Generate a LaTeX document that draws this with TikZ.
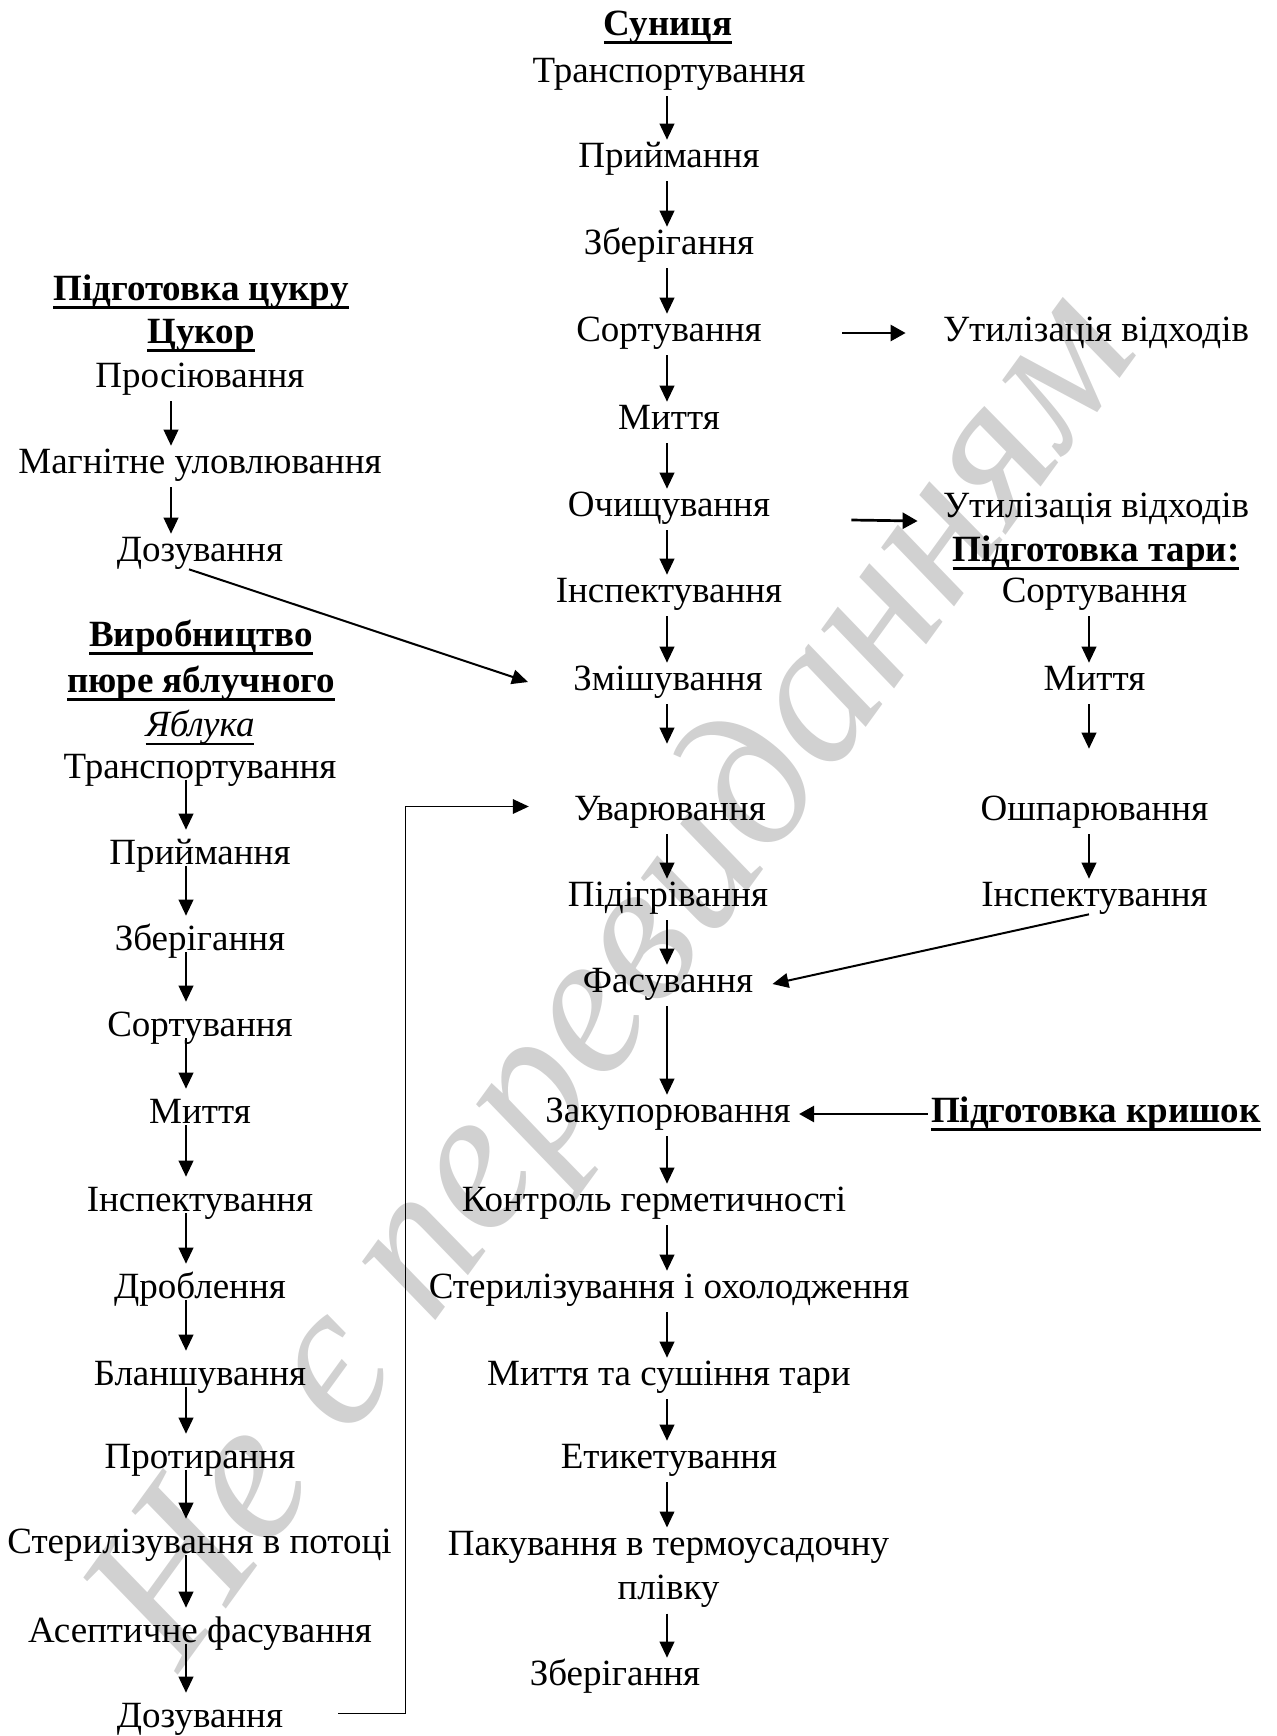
\documentclass[tikz,border=0pt]{standalone}
\usepackage{fontspec}
\setmainfont{Liberation Serif}
\usetikzlibrary{arrows.meta}
\newcommand{\stagefont}{\fontsize{18.5}{22}\selectfont}
\newcommand{\uln}[2][0.07em]{\setbox0\hbox{#2}\rlap{\rule[-0.22em]{\wd0}{#1}}\box0}
\tikzset{
  lbl/.style={font=\stagefont, inner sep=0pt},
  stage/.style={lbl, text height=12.2pt, text depth=3.7pt},
  heading/.style={stage, font=\stagefont\bfseries},
  flow/.style={-{Triangle[length=8pt,width=7.3pt]}, line width=1pt,
    shorten <=3pt, shorten >=1.5pt},
  appleflow/.style={flow, shorten <=-3pt, shorten >=5pt},
  sideflow/.style={-{Triangle[length=7.5pt,width=8pt]}, line width=1.35pt},
  wmark/.style={text=black!18, inner sep=0pt,
    font=\fontsize{102}{102}\selectfont\itshape, rotate=54}
}

\begin{document}
\begin{tikzpicture}[x=0.5pt, y=-0.5pt]
  \useasboundingbox (0,-2) rectangle (1277,1734);
  \node[wmark] (wm) at (621,980) {Не є перевиданням};
  % arrow columns
  \coordinate (cx) at (667,0);
  \coordinate (lx) at (186,0);
  \coordinate (sx) at (171,0);
  \coordinate (rx) at (1089,0);
  \coordinate (bend) at (405.5,804.5);
  % strawberry line
  \node[heading] (berry) at (668,25) {\uln{Суниця}};
  \node[stage] (c1) at (669,72) {Транспортування};
  \node[stage] (c2) at (669,157) {Приймання};
  \node[stage] (c3) at (669,244) {Зберігання};
  \node[stage] (c4) at (669,331) {Сортування};
  \node[stage] (c5) at (669,419) {Миття};
  \node[stage] (c6) at (669,506) {Очищування};
  \node[stage] (c7) at (669,592) {Інспектування};
  \node[stage] (c8) at (668,680) {Змішування};
  \node[stage] (c9) at (670,810) {Уварювання};
  \node[stage] (c10) at (668,896) {Підігрівання};
  \node[stage] (c11) at (668,982) {Фасування};
  \node[stage] (c12) at (668,1112) {Закупорювання};
  \node[stage] (c13) at (654,1201) {Контроль герметичності};
  \node[stage] (c14) at (669,1288) {Стерилізування і охолодження};
  \node[stage] (c15) at (669,1375) {Миття та сушіння тари};
  \node[stage] (c16) at (669,1458) {Етикетування};
  \node[lbl, align=center] (c17) at (668.5,1567) {Пакування в термоусадочну\\плівку};
  \node[stage] (c18) at (615,1675) {Зберігання};
  % waste, jars and lids
  \node[stage] (u1) at (1096,331) {Утилізація відходів};
  \node[stage] (u2) at (1096,507) {Утилізація відходів};
  \node[heading] (jars) at (1096,551) {\uln{Підготовка тари:}};
  \node[stage] (r1) at (1094.5,592) {Сортування};
  \node[stage] (r2) at (1094.5,680) {Миття};
  \node[stage] (r3) at (1094.5,810) {Ошпарювання};
  \node[stage] (r4) at (1094.5,896) {Інспектування};
  \node[heading] (lids) at (1096,1112) {\uln{Підготовка кришок}};
  % sugar
  \node[heading] (sugarhd) at (201,290) {\uln{Підготовка цукру}};
  \node[heading] (sugar) at (201,333) {\uln{Цукор}};
  \node[stage] (s1) at (200,377) {Просіювання};
  \node[stage] (s2) at (200,463) {Магнітне уловлювання};
  \node[stage] (s3) at (200,551) {Дозування};
  % apple puree
  \node[heading] (applehd1) at (201,636) {\uln{Виробництво}};
  \node[heading] (applehd2) at (201,682) {\uln{пюре яблучного}};
  \node[stage, font=\stagefont\itshape] (apple) at (200,726) {\uln[0.045em]{Яблука}};
  \node[stage] (a1) at (200,768) {Транспортування};
  \node[stage] (a2) at (200,854) {Приймання};
  \node[stage] (a3) at (200,940) {Зберігання};
  \node[stage] (a4) at (200,1026) {Сортування};
  \node[stage] (a5) at (200,1113) {Миття};
  \node[stage] (a6) at (200,1201) {Інспектування};
  \node[stage] (a7) at (200,1288) {Дроблення};
  \node[stage] (a8) at (200,1375) {Бланшування};
  \node[stage] (a9) at (200,1458) {Протирання};
  \node[stage] (a10) at (199.5,1543) {Стерилізування в потоці};
  \node[stage] (a11) at (200,1632) {Асептичне фасування};
  \node[stage] (a12) at (200,1717) {Дозування};

  \foreach \a/\b in {c1/c2,c2/c3,c3/c4,c4/c5,c5/c6,c6/c7,c7/c8,c9/c10,c10/c11,
      c11/c12,c12/c13,c13/c14,c14/c15,c15/c16,c16/c17,c17/c18}
    \draw[flow] (\a.south -| cx) -- (\b.north -| cx);
  \draw[flow, shorten >=26pt] (c8.south -| cx) -- (c9.north -| cx);
  \foreach \a/\b in {r1/r2,r3/r4}
    \draw[flow] (\a.south -| rx) -- (\b.north -| rx);
  \draw[flow, shorten >=23.5pt] (r2.south -| rx) -- (r3.north -| rx);
  \foreach \a/\b in {s1/s2,s2/s3}
    \draw[flow] (\a.south -| sx) -- (\b.north -| sx);
  \foreach \a/\b in {a1/a2,a2/a3,a3/a4,a4/a5,a5/a6,a6/a7,a7/a8,a8/a9,a9/a10,
      a10/a11,a11/a12}
    \draw[appleflow] (\a.south -| lx) -- (\b.north -| lx);

  \draw[sideflow] ([xshift=40pt]c4.east) -- ([xshift=-18.5pt]u1.west);
  \draw[sideflow] ([shift={(40.5pt,-6pt)}]c6.east) -- ([shift={(-12.5pt,-6pt)}]u2.west);
  \draw[sideflow] ([xshift=-1.5pt]lids.west) -- ([xshift=4pt]c12.east);
  \draw[flow, shorten <=0pt, shorten >=0pt] (r4.south -| rx) -- ([xshift=9.5pt]c11.east);
  \draw[flow, shorten <=0pt, shorten >=0pt] ([xshift=-5.5pt]s3.south) -- ([xshift=-22.5pt]c8.west);
  \draw[flow, line width=0.7pt, shorten <=0pt, shorten >=0pt]
    ([shift={(27.3pt,2.9pt)}]a12.east) -| (bend) -- ([shift={(-22.5pt,2.75pt)}]c9.west);
\end{tikzpicture}
\end{document}
